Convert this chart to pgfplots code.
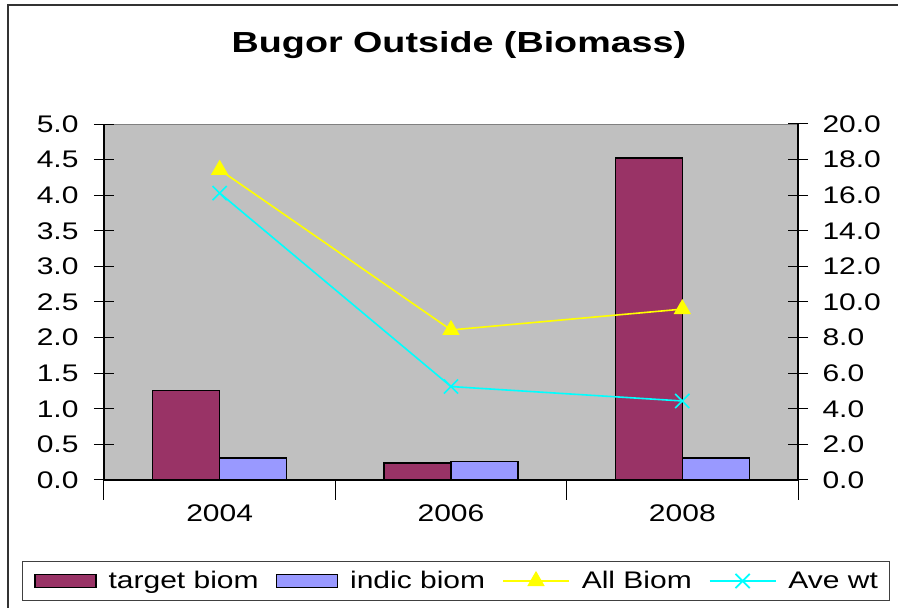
\documentclass[border=0pt]{standalone}
\usepackage{fontspec}
\setmainfont[FakeStretch=1.25]{Liberation Sans}
\newfontfamily\titlefont[FakeStretch=1.3]{Liberation Sans}
\usepackage{pgfplots}
\pgfplotsset{compat=1.18}
\definecolor{target}{HTML}{993366}
\definecolor{indic}{HTML}{9999FF}
\definecolor{plotbg}{HTML}{C0C0C0}
\definecolor{lineyellow}{RGB}{255,255,0}
\definecolor{linecyan}{RGB}{0,255,255}
\pgfplotsset{
  barlegend/.style={legend image code/.code={\draw[##1] (0pt,-6.5pt) rectangle (61pt,6.5pt);}},
  linelegend/.style={legend image code/.code={\draw[mark repeat=2,mark phase=2,##1] plot coordinates {(0pt,0pt) (33pt,0pt) (66pt,0pt)};}},
  common/.style={
    at={(0pt,0pt)}, anchor=south west,
    scale only axis, width=694pt, height=356pt,
    xmin=0, xmax=3,
    axis line style={-, line width=1.2pt, black},
    tick align=center, major tick length=20pt,
    tick style={black, line width=1pt},
    tick label style={font=\fontsize{24}{28}\selectfont},
    /pgf/number format/fixed, /pgf/number format/fixed zerofill,
    /pgf/number format/precision=1, /pgf/number format/assume math mode=true,
  },
}
\begin{document}
\begin{tikzpicture}
\fill[white] (-104pt,-128pt) rectangle (794pt,480pt);
\draw[line width=1.6pt, black!80] (-96pt,-140pt) -- (-96pt,475pt) -- (800pt,475pt);
\begin{axis}[common,
  ymin=0, ymax=5,
  axis x line*=bottom, axis y line*=left,
  axis background/.style={fill=plotbg, draw=gray, line width=1pt},
  ybar=0pt, bar width=67pt,
  xtick={0,1,2,3}, xticklabels={},
  extra x ticks={0.5,1.5,2.5}, extra x tick labels={2004,2006,2008},
  extra x tick style={major tick length=0pt, xticklabel style={yshift=-21pt}},
  ytick={0,0.5,1,1.5,2,2.5,3,3.5,4,4.5,5},
  yticklabel style={xshift=-12pt},
  title={\titlefont\fontsize{29}{34}\selectfont\bfseries Bugor Outside (Biomass)},
  title style={at={(0.5115,1.1834)}, anchor=base},
]
\addplot[fill=target, draw=black, line width=1.5pt] coordinates {(0.5,1.26) (1.5,0.24) (2.5,4.52)};
\addplot[fill=indic, draw=black, line width=1.5pt] coordinates {(0.5,0.31) (1.5,0.26) (2.5,0.31)};
\end{axis}
\begin{axis}[common,
  ymin=0, ymax=20,
  axis x line=none, axis y line*=right,
  ytick={0,2,4,6,8,10,12,14,16,18,20},
  yticklabel style={xshift=11pt},
  legend columns=4,
  legend style={at={(0.5072,-0.2837)}, anchor=center, draw=black!75, line width=1pt,
    font=\fontsize{24}{28}\selectfont, inner xsep=12pt, inner ysep=10pt,
    nodes={inner sep=0pt},
    /tikz/every odd column/.append style={column sep=12pt},
    /tikz/every even column/.append style={column sep=17pt}},
]
\addlegendimage{barlegend, fill=target, draw=black, line width=1.5pt}
\addlegendentry{target biom}
\addlegendimage{barlegend, fill=indic, draw=black, line width=1.5pt}
\addlegendentry{indic biom}
\addplot[linelegend, color=lineyellow, line width=1.6pt, mark=triangle*, mark size=8.5pt, mark options={fill=lineyellow, draw=lineyellow}] coordinates {(0.5,17.43) (1.5,8.43) (2.5,9.6)};
\addlegendentry{All Biom}
\addplot[linelegend, color=linecyan, line width=1.6pt, mark=x, mark size=10pt, mark options={draw=linecyan}] coordinates {(0.5,16.12) (1.5,5.25) (2.5,4.44)};
\addlegendentry{Ave wt}
\end{axis}
\pgfresetboundingbox
\path[use as bounding box] (-104pt,-128pt) rectangle (794pt,480pt);
\end{tikzpicture}
\end{document}
